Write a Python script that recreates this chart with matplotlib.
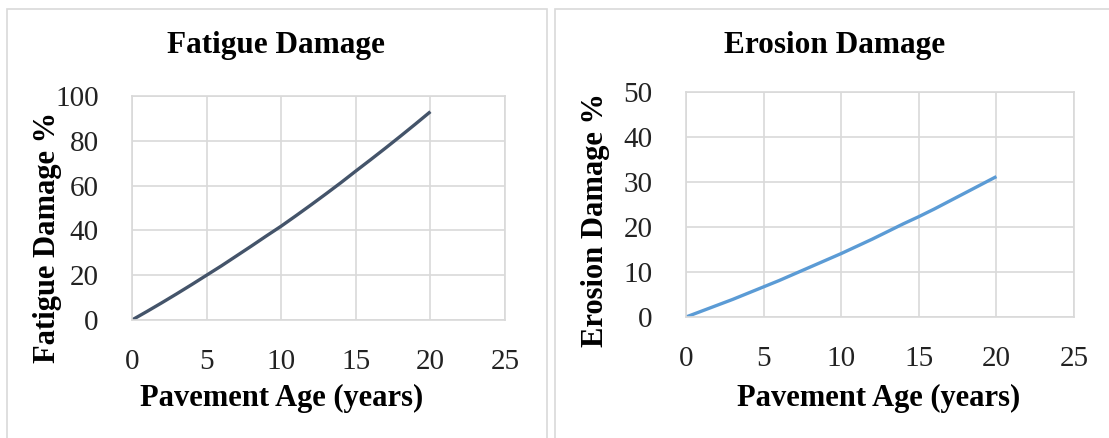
import matplotlib
matplotlib.use("Agg")
import matplotlib.pyplot as plt
from matplotlib.patches import Rectangle

plt.rcParams['font.family'] = ['Liberation Serif', 'DejaVu Serif']

# Data
years = list(range(0, 21))
fatigue = [0, 3.8, 7.7, 11.7, 15.8, 20.0, 24.2, 28.6, 33.0, 37.5, 41.9,
           46.6, 51.4, 56.3, 61.3, 66.5, 71.6, 76.8, 82.1, 87.5, 93.0]
erosion = [0, 1.3, 2.6, 3.9, 5.3, 6.7, 8.1, 9.6, 11.1, 12.6, 14.1,
           15.7, 17.3, 19.0, 20.7, 22.3, 24.0, 25.8, 27.6, 29.4, 31.2]
x_ticks = [0, 5, 10, 15, 20, 25]
fat_ticks = [0, 20, 40, 60, 80, 100]
ero_ticks = [0, 10, 20, 30, 40, 50]

W, H = 1109, 438
fig = plt.figure(figsize=(W / 100, H / 100), dpi=100)

def px(x, y):
    return x / W, 1 - y / H

grid_col = '#d9d9d9'

# panel borders
for x0, x1 in [(7, 547), (555, 1120)]:
    fig.patches.append(Rectangle(px(x0, 460), (x1 - x0) / W, (460 - 9) / H,
                                 transform=fig.transFigure, fill=False,
                                 edgecolor=grid_col, linewidth=1.2))

def make_panel(rect, y, yticks, color, title, ylabel, tpos, ylpos, xlpos):
    ax = fig.add_axes(rect)
    ax.plot(years, y, color=color, linewidth=2.4, solid_capstyle='butt')
    ax.set_xlim(0, 25)
    ax.set_ylim(yticks[0], yticks[-1])
    ax.set_xticks(x_ticks)
    ax.set_yticks(yticks)
    ax.grid(True, color=grid_col, linewidth=1.2)
    ax.set_axisbelow(True)
    for s in ax.spines.values():
        s.set_color(grid_col)
        s.set_linewidth(1.2)
    ax.tick_params(length=0, labelsize=21, colors='#222222')
    ax.tick_params(axis='x', pad=21)
    ax.tick_params(axis='y', pad=24)
    fig.text(*px(*tpos), title, ha='center', va='center',
             fontsize=22.5, fontweight='bold')
    fig.text(*px(*ylpos), ylabel, ha='center', va='center', rotation=90,
             fontsize=22, fontweight='bold')
    fig.text(*px(*xlpos), 'Pavement Age (years)', ha='center', va='center',
             fontsize=22, fontweight='bold')
    return ax

make_panel([132 / W, 118 / H, 373 / W, 224 / H], fatigue, fat_ticks,
           '#44546a', 'Fatigue Damage', 'Fatigue Damage %',
           (276, 46), (48, 237), (282, 398))
make_panel([686 / W, 121 / H, 388 / W, 225 / H], erosion, ero_ticks,
           '#5b9bd5', 'Erosion Damage', 'Erosion Damage %',
           (835, 46), (596, 220), (879, 398))

fig.savefig('out.png', dpi=100)
